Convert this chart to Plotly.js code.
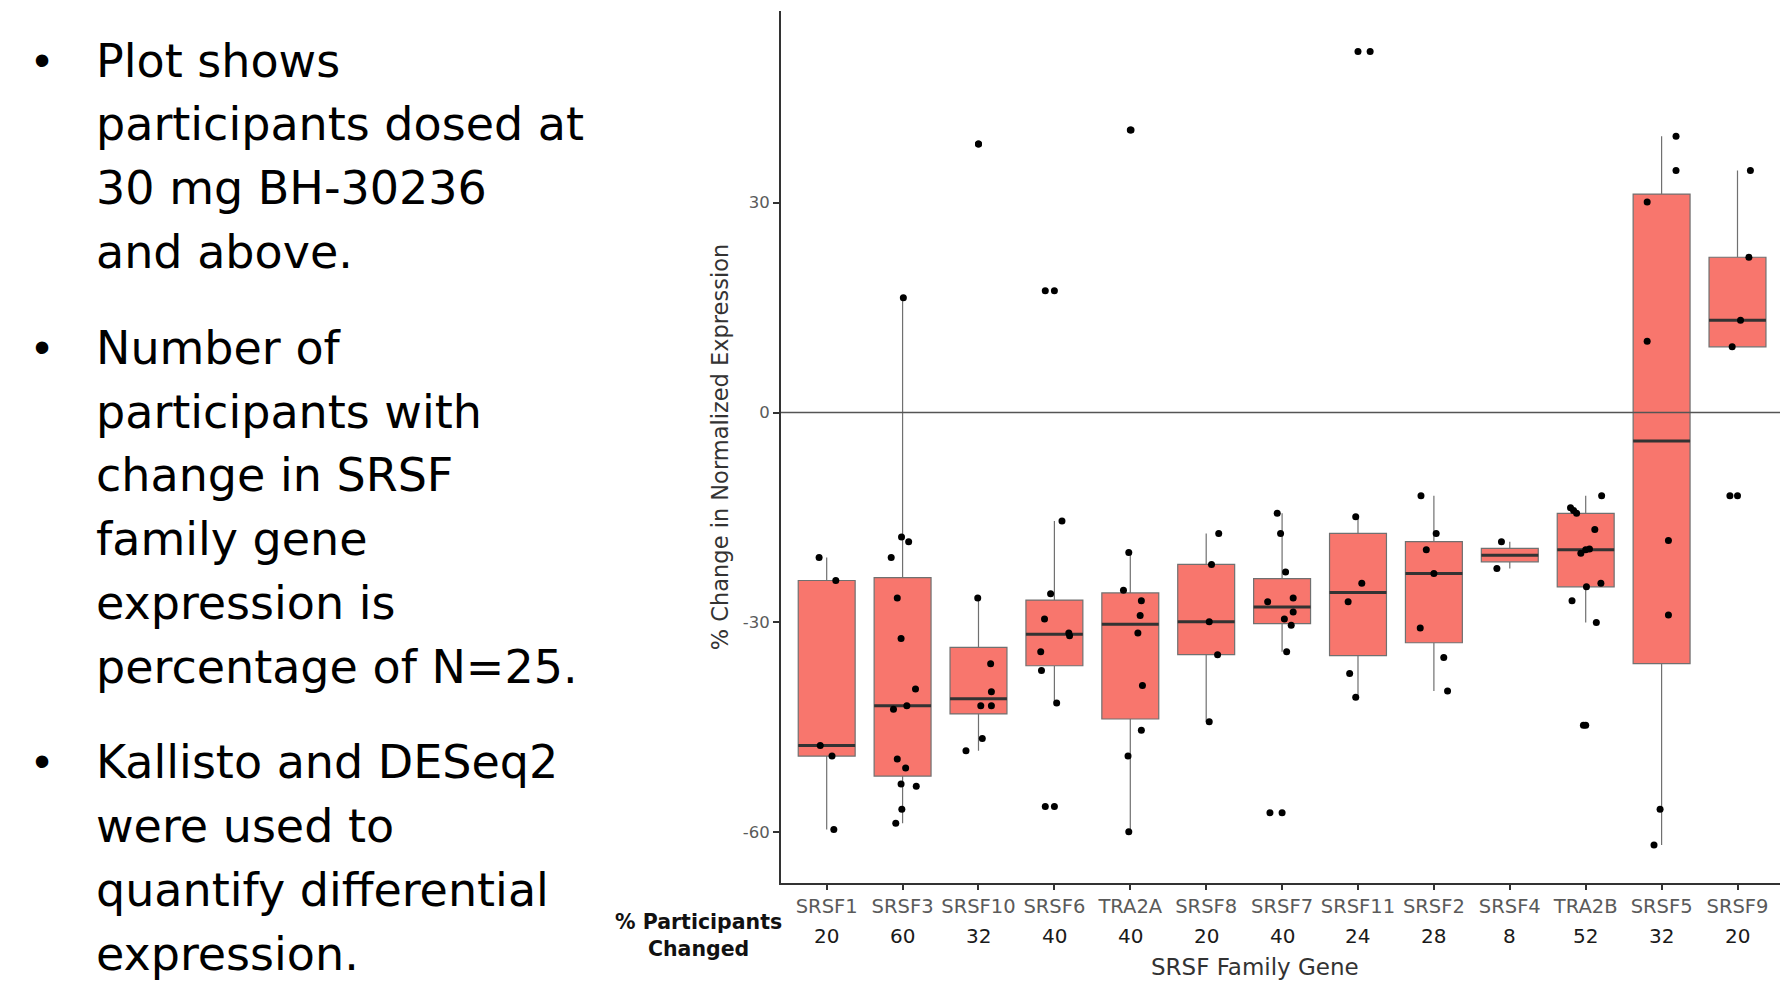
<!DOCTYPE html>
<html>
<head>
<meta charset="utf-8">
<script src="https://cdn.plot.ly/plotly-3.0.1.min.js"></script>
<style>
  html, body { margin: 0; padding: 0; background: #ffffff; }
  #chart { width: 1783px; height: 986px; }
</style>
</head>
<body>
<div id="chart"></div>
<script>
// ---------------- DATA ----------------
const genes = ['SRSF1','SRSF3','SRSF10','SRSF6','TRA2A','SRSF8','SRSF7','SRSF11','SRSF2','SRSF4','TRA2B','SRSF5','SRSF9'];
const pctChanged = [20, 60, 32, 40, 40, 20, 40, 24, 28, 8, 52, 32, 20];

// % change in normalized expression per participant, and the horizontal jitter seen in the picture
const vSRSF1  = [-20.7, -24.0, -47.6, -49.1, -59.6];
const jSRSF1  = [-0.10, 0.12, -0.085, 0.07, 0.094];
const vSRSF3  = [16.4, -17.8, -18.45, -20.7, -26.5, -32.3, -39.5, -41.9, -42.4, -49.5, -50.8, -53.1, -53.4, -56.7, -58.7];
const jSRSF3  = [0.01, -0.014, 0.08, -0.15, -0.07, -0.02, 0.17, 0.056, -0.12, -0.07, 0.04, -0.02, 0.18, -0.01, -0.09];
const vSRSF10 = [38.4, -26.5, -35.9, -39.9, -41.9, -41.9, -46.6, -48.35];
const jSRSF10 = [0.0, -0.01, 0.16, 0.17, 0.03, 0.17, 0.05, -0.165];
const vSRSF6  = [17.4, -15.5, -25.9, -29.5, -31.5, -31.9, -34.2, -36.85, -41.5, -56.3];
const jSRSF6  = [-0.12, 0.10, -0.05, -0.13, 0.19, 0.2, -0.18, -0.17, 0.03, -0.12];
const vTRA2A  = [40.4, -20.0, -25.4, -26.9, -29.0, -31.5, -39.0, -45.4, -49.1, -59.9];
const jTRA2A  = [0.01, -0.02, -0.09, 0.146, 0.13, 0.10, 0.16, 0.146, -0.03, -0.02];
const vSRSF8  = [-17.3, -21.7, -29.9, -34.6, -44.2];
const jSRSF8  = [0.165, 0.07, 0.04, 0.15, 0.04];
const vSRSF7  = [-14.4, -17.3, -22.8, -26.5, -27.05, -28.5, -29.5, -30.4, -34.2, -57.2];
const jSRSF7  = [-0.064, -0.02, 0.046, 0.146, -0.19, 0.146, 0.03, 0.12, 0.06, -0.16];
const vSRSF11 = [51.6, -14.9, -24.4, -27.05, -37.3, -40.7];
const jSRSF11 = [0.16, -0.03, 0.05, -0.13, -0.11, -0.03];
const vSRSF2  = [-11.9, -17.3, -19.6, -23.0, -30.8, -35.0, -39.8];
const jSRSF2  = [-0.17, 0.03, -0.1, 0.0, -0.18, 0.13, 0.18];
const vSRSF4  = [-18.45, -22.3];
const jSRSF4  = [-0.11, -0.17];
const vTRA2B  = [-11.9, -13.6, -14.0, -14.4, -16.7, -19.5, -19.6, -20.1, -24.4, -24.9, -26.9, -30.0, -44.7];
const jTRA2B  = [0.21, -0.2, -0.16, -0.12, 0.12, 0.05, 0.0, -0.064, 0.2, 0.01, -0.18, 0.14, -0.03];
const vSRSF5  = [39.5, 34.6, 30.1, 10.2, -18.3, -28.95, -56.7, -61.8];
const jSRSF5  = [0.19, 0.19, -0.19, -0.19, 0.09, 0.09, -0.02, -0.1];
const vSRSF9  = [34.6, 22.2, 13.2, 9.4, -11.9];
const jSRSF9  = [0.17, 0.15, 0.04, -0.07, -0.1];

const yTickVals = [-60, -30, 0, 30];

const bulletParagraphs = [
  ['Plot shows', 'participants dosed at', '30 mg BH-30236', 'and above.'],
  ['Number of', 'participants with', 'change in SRSF', 'family gene', 'expression is', 'percentage of N=25.'],
  ['Kallisto and DESeq2', 'were used to', 'quantify differential', 'expression.']
];

// ---------------- derived (ggplot-style box statistics) ----------------
const geneValues = [vSRSF1, vSRSF3, vSRSF10, vSRSF6, vTRA2A, vSRSF8, vSRSF7, vSRSF11, vSRSF2, vSRSF4, vTRA2B, vSRSF5, vSRSF9];
const geneJitter = [jSRSF1, jSRSF3, jSRSF10, jSRSF6, jTRA2A, jSRSF8, jSRSF7, jSRSF11, jSRSF2, jSRSF4, jTRA2B, jSRSF5, jSRSF9];
const idx = genes.map((g, i) => i);

function quantile7(s, p) {
  const h = (s.length - 1) * p, lo = Math.floor(h), hi = Math.ceil(h);
  return s[lo] + (h - lo) * (s[hi] - s[lo]);
}
const stats = geneValues.map(v => {
  const s = [...v].sort((a, b) => a - b);
  const q1 = quantile7(s, 0.25), med = quantile7(s, 0.5), q3 = quantile7(s, 0.75);
  const iqr = q3 - q1, lo = q1 - 1.5 * iqr, hi = q3 + 1.5 * iqr;
  const inside = s.filter(x => x >= lo && x <= hi);
  return { q1, med, q3, lf: Math.min(...inside), uf: Math.max(...inside), out: s.filter(x => x < lo || x > hi) };
});

const boxWidth = 0.75;
const medX = [], medY = [];
stats.forEach((st, i) => { medX.push(i - boxWidth / 2, i + boxWidth / 2, null); medY.push(st.med, st.med, null); });

const jitX = [], jitY = [];
geneValues.forEach((v, i) => v.forEach((y, k) => { jitX.push(i + geneJitter[i][k]); jitY.push(y); }));
const outX = [], outY = [];
stats.forEach((st, i) => st.out.forEach(y => { outX.push(i); outY.push(y); }));

// ---------------- layout helpers ----------------
const W = 1783, H = 986;
const M = { l: 781, r: 3, t: 11, b: 103 };
const PW = W - M.l - M.r, PH = H - M.t - M.b;
const px2x = px => (px - M.l) / PW;
const px2y = py => (H - M.b - py) / PH;

const traces = [
  {
    type: 'box', orientation: 'v', x: idx,
    q1: stats.map(s => s.q1), median: stats.map(s => s.med), q3: stats.map(s => s.q3),
    lowerfence: stats.map(s => s.lf), upperfence: stats.map(s => s.uf),
    width: boxWidth, whiskerwidth: 0, boxpoints: false,
    fillcolor: '#F8766D', line: { color: '#707070', width: 1.2 },
    hoverinfo: 'skip', showlegend: false
  },
  {
    type: 'scatter', mode: 'lines', x: medX, y: medY,
    line: { color: '#333333', width: 3 }, hoverinfo: 'skip', showlegend: false
  },
  {
    type: 'scatter', mode: 'markers', x: jitX, y: jitY,
    marker: { color: '#000000', size: 7 }, showlegend: false
  },
  {
    type: 'scatter', mode: 'markers', x: outX, y: outY,
    marker: { color: '#000000', size: 7 }, showlegend: false
  }
];

const annotations = [];
// percent participants changed row
pctChanged.forEach((p, i) => annotations.push({
  x: i, xref: 'x', y: px2y(936), yref: 'paper', text: String(p), showarrow: false,
  xanchor: 'center', yanchor: 'middle', font: { family: 'DejaVu Sans', size: 20, color: '#1a1a1a' }
}));
annotations.push({
  x: px2x(698), xref: 'paper', y: px2y(935), yref: 'paper',
  text: '<b>% Participants</b><br><b>Changed</b>', showarrow: false, align: 'center',
  xanchor: 'center', yanchor: 'middle', font: { family: 'DejaVu Sans', size: 20.5, color: '#111111' }
});
annotations.push({
  x: px2x(1254.5), xref: 'paper', y: px2y(967), yref: 'paper',
  text: 'SRSF Family Gene', showarrow: false,
  xanchor: 'center', yanchor: 'middle', font: { family: 'DejaVu Sans', size: 23, color: '#333333' }
});
// left bullet text
let baseline = 76.7;
const lineStep = 63.8, bulletFont = 46;
bulletParagraphs.forEach((para, pi) => {
  para.forEach((line, li) => {
    if (li === 0) {
      annotations.push({
        x: px2x(42), xref: 'paper', y: px2y(baseline - 17), yref: 'paper', text: '•', showarrow: false,
        xanchor: 'center', yanchor: 'middle', font: { family: 'Liberation Sans', size: 46, color: '#000000' }
      });
    }
    annotations.push({
      x: px2x(94), xref: 'paper', y: px2y(baseline - 16), yref: 'paper', text: line, showarrow: false,
      xanchor: 'left', yanchor: 'middle', align: 'left',
      font: { family: 'DejaVu Sans', size: bulletFont, color: '#000000' }
    });
    baseline += lineStep;
  });
  baseline += lineStep * 0.5;
});

const layout = {
  width: W, height: H, margin: M,
  paper_bgcolor: '#ffffff', plot_bgcolor: '#ffffff',
  showlegend: false,
  xaxis: {
    range: [-0.602, 12.56], tickvals: idx, ticktext: genes,
    ticks: 'outside', ticklen: 5, tickwidth: 1.5, tickcolor: '#333333',
    showline: true, linecolor: '#333333', linewidth: 2,
    showgrid: false, zeroline: false,
    tickfont: { family: 'DejaVu Sans', size: 19.5, color: '#5a5a5a' }
  },
  yaxis: {
    range: [-67.24, 57.4], tickvals: yTickVals, ticktext: yTickVals.map(String),
    ticks: 'outside', ticklen: 6, tickwidth: 1.5, tickcolor: '#333333',
    showline: true, linecolor: '#333333', linewidth: 2,
    showgrid: false, zeroline: false,
    tickfont: { family: 'DejaVu Sans', size: 16.5, color: '#5a5a5a' },
    title: { text: '% Change in Normalized Expression', standoff: 8,
             font: { family: 'DejaVu Sans', size: 22.5, color: '#333333' } }
  },
  shapes: [{
    type: 'line', xref: 'paper', x0: 0, x1: 1, yref: 'y', y0: 0, y1: 0,
    line: { color: '#555555', width: 1.5 }, layer: 'above'
  }],
  annotations: annotations
};

Plotly.newPlot('chart', traces, layout, { displayModeBar: false, responsive: false });
</script>
</body>
</html>
